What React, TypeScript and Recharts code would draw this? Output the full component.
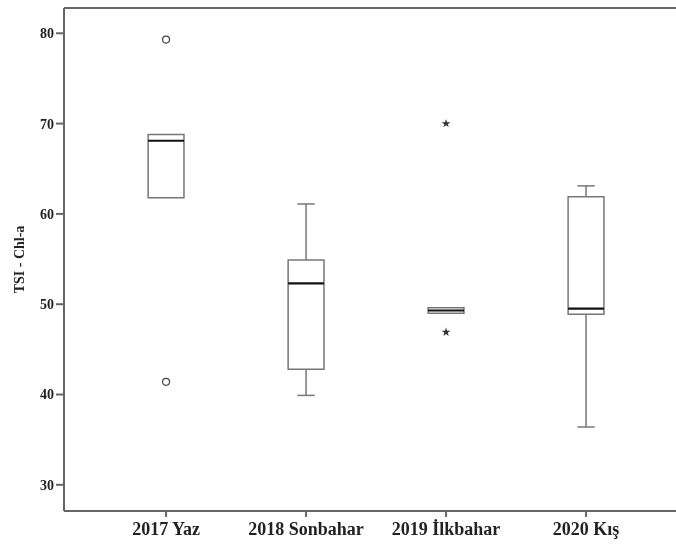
import React, { useEffect } from 'react'
import {
  ComposedChart,
  XAxis,
  YAxis,
  ZAxis,
  Scatter,
  ReferenceArea,
  ReferenceLine,
  Label,
} from 'recharts'

const categories = ['2017 Yaz', '2018 Sonbahar', '2019 İlkbahar', '2020 Kış']
const whiskerLow = [61.8, 39.9, 49.0, 36.4]
const q1 = [61.8, 42.8, 49.0, 48.9]
const median = [68.1, 52.3, 49.3, 49.5]
const q3 = [68.8, 54.9, 49.6, 61.9]
const whiskerHigh = [68.8, 61.1, 49.6, 63.1]
const outliers = [
  { x: 0, y: 79.3 },
  { x: 0, y: 41.4 },
]
const extremes = [
  { x: 2, y: 70.0 },
  { x: 2, y: 46.9 },
]
const yTicks = [30, 40, 50, 60, 70, 80]

const yMin = 27.1
const yMax = 82.8
// plot runs past the right edge of the window, like the cropped original
const xMin = -0.729
const xMax = 3.814
const boxHalf = 0.128
const capHalf = 0.062

const frame = '#666'
const boxStroke = '#777'
const font = '"Liberation Serif", "Times New Roman", serif'

const OpenCircle = (props: any) => (
  <circle cx={props.cx} cy={props.cy} r={3.5} fill="#fff" stroke="#444" strokeWidth={1.2} />
)

const App: React.FC = () => {
  useEffect(() => {
    document.documentElement.style.overflow = 'hidden'
    document.body.style.overflow = 'hidden'
  }, [])

  return (
    <div style={{ position: 'fixed', left: 0, top: 0, width: 676, height: 544, overflow: 'hidden' }}>
      <ComposedChart width={700} height={544} margin={{ top: 8, right: 0, left: 8, bottom: 0 }}>
        <XAxis
          type="number"
          dataKey="x"
          domain={[xMin, xMax]}
          ticks={[0, 1, 2, 3]}
          tickFormatter={(v) => categories[v]}
          allowDataOverflow
          height={33}
          stroke={frame}
          strokeWidth={2}
          tickSize={6}
          tickMargin={5}
          tick={{ fill: '#222', fontFamily: font, fontWeight: 'bold', fontSize: 18 }}
        />
        <YAxis
          type="number"
          dataKey="y"
          domain={[yMin, yMax]}
          ticks={yTicks}
          allowDataOverflow
          width={56}
          stroke={frame}
          strokeWidth={2}
          tickSize={8}
          tickMargin={2}
          tick={{ fill: '#222', fontFamily: font, fontWeight: 'bold', fontSize: 14 }}
        >
          <Label
            value="TSI - Chl-a"
            angle={-90}
            position="insideLeft"
            offset={11}
            style={{ fill: '#222', fontFamily: font, fontWeight: 'bold', fontSize: 14, textAnchor: 'middle' }}
          />
        </YAxis>
        <ZAxis range={[24, 24]} />
        <ReferenceLine y={yMax} stroke={frame} strokeWidth={2} ifOverflow="visible" />

        {categories.map((c, i) => (
          <ReferenceArea
            key={'box' + c}
            x1={i - boxHalf}
            x2={i + boxHalf}
            y1={q1[i]}
            y2={q3[i]}
            fill="#fff"
            fillOpacity={0}
            stroke={boxStroke}
            strokeWidth={1.5}
          />
        ))}
        {categories.map((c, i) =>
          whiskerHigh[i] > q3[i] ? (
            <ReferenceLine
              key={'wh' + c}
              segment={[{ x: i, y: q3[i] }, { x: i, y: whiskerHigh[i] }]}
              stroke={boxStroke}
              strokeWidth={1.5}
            />
          ) : null
        )}
        {categories.map((c, i) =>
          whiskerHigh[i] > q3[i] ? (
            <ReferenceLine
              key={'ch' + c}
              segment={[{ x: i - capHalf, y: whiskerHigh[i] }, { x: i + capHalf, y: whiskerHigh[i] }]}
              stroke={boxStroke}
              strokeWidth={1.5}
            />
          ) : null
        )}
        {categories.map((c, i) =>
          whiskerLow[i] < q1[i] ? (
            <ReferenceLine
              key={'wl' + c}
              segment={[{ x: i, y: whiskerLow[i] }, { x: i, y: q1[i] }]}
              stroke={boxStroke}
              strokeWidth={1.5}
            />
          ) : null
        )}
        {categories.map((c, i) =>
          whiskerLow[i] < q1[i] ? (
            <ReferenceLine
              key={'cl' + c}
              segment={[{ x: i - capHalf, y: whiskerLow[i] }, { x: i + capHalf, y: whiskerLow[i] }]}
              stroke={boxStroke}
              strokeWidth={1.5}
            />
          ) : null
        )}
        {categories.map((c, i) => (
          <ReferenceLine
            key={'med' + c}
            segment={[{ x: i - boxHalf, y: median[i] }, { x: i + boxHalf, y: median[i] }]}
            stroke="#111"
            strokeWidth={2.2}
          />
        ))}

        <Scatter data={outliers} dataKey="y" shape={OpenCircle} isAnimationActive={false} />
        <Scatter data={extremes} dataKey="y" shape="star" fill="#333" legendType="none" isAnimationActive={false} />
      </ComposedChart>
    </div>
  )
}

export default App
